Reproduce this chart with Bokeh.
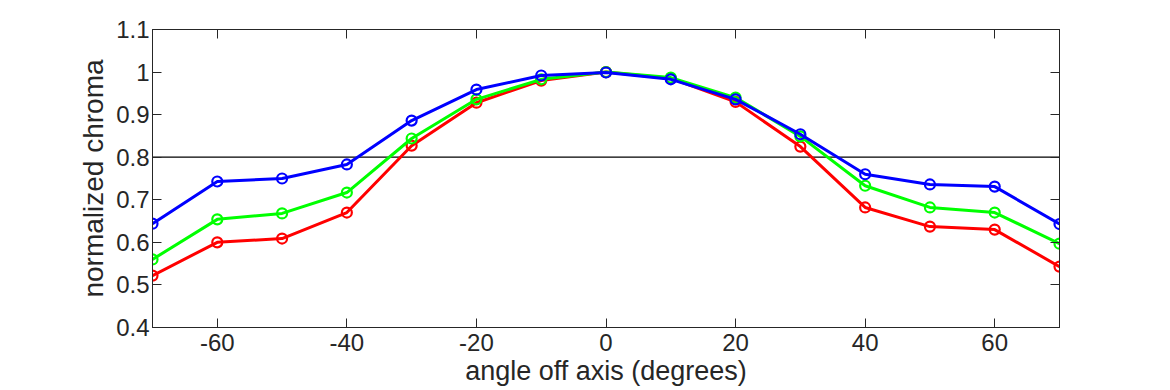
from bokeh.plotting import figure
from bokeh.models import FixedTicker, LinearAxis, Span, Range1d
from bokeh.embed import file_html
from bokeh.resources import INLINE

angles = [-70, -60, -50, -40, -30, -20, -10, 0, 10, 20, 30, 40, 50, 60, 70]
red = [0.522, 0.600, 0.609, 0.670, 0.827, 0.928, 0.980, 1.000, 0.985, 0.930, 0.825, 0.682, 0.637, 0.630, 0.543]
green = [0.560, 0.654, 0.668, 0.717, 0.844, 0.936, 0.983, 1.000, 0.987, 0.940, 0.849, 0.733, 0.682, 0.670, 0.597]
blue = [0.644, 0.743, 0.750, 0.783, 0.886, 0.959, 0.992, 0.999, 0.983, 0.936, 0.854, 0.760, 0.736, 0.731, 0.643]

x_ticks = [-60, -40, -20, 0, 20, 40, 60]
x_tick_labels = ["-60", "-40", "-20", "0", "20", "40", "60"]
y_ticks = [0.4, 0.5, 0.6, 0.7, 0.8, 0.9, 1.0, 1.1]
y_tick_labels = ["0.4", "0.5", "0.6", "0.7", "0.8", "0.9", "1", "1.1"]
threshold = 0.8

FONT = "Liberation Sans"
TXT = "#262626"

p = figure(frame_width=907, frame_height=298, output_backend="svg", toolbar_location=None,
           x_range=Range1d(-70, 70), y_range=Range1d(0.4, 1.1),
           min_border_left=152, min_border_top=29, min_border_right=103, min_border_bottom=0,
           x_axis_label="angle off axis (degrees)", y_axis_label="normalized chroma")
p.grid.visible = False
p.outline_line_color = TXT
p.background_fill_color = "white"
p.border_fill_color = "white"

p.add_layout(Span(location=threshold, dimension="width", line_color="black", line_width=1.2, level="underlay"))

for ys, c in [(red, "#ff0000"), (green, "#00ff00"), (blue, "#0000ff")]:
    p.line(angles, ys, line_color=c, line_width=3)
    p.scatter(angles, ys, marker="circle", size=10, fill_color=None, line_color=c, line_width=2.2)

xa = p.xaxis[0]
ya = p.yaxis[0]
xa.ticker = FixedTicker(ticks=x_ticks)
xa.major_label_overrides = dict(zip(x_ticks, x_tick_labels))
ya.ticker = FixedTicker(ticks=y_ticks)
ya.major_label_overrides = dict(zip(y_ticks, y_tick_labels))

for ax in (xa, ya):
    ax.major_tick_in = 9
    ax.major_tick_out = 0
    ax.minor_tick_in = 0
    ax.minor_tick_out = 0
    ax.axis_line_color = TXT
    ax.major_tick_line_color = TXT
    ax.major_label_text_font = FONT
    ax.major_label_text_font_size = "24px"
    ax.major_label_text_color = TXT
    ax.axis_label_text_font = FONT
    ax.axis_label_text_font_size = "27px"
    ax.axis_label_text_font_style = "normal"
    ax.axis_label_text_color = TXT

ya.axis_label_text_font_size = "28px"
xa.major_label_standoff = 6
xa.axis_label_standoff = 2
ya.major_label_standoff = 3
ya.axis_label_standoff = 4

for loc, tk in (("above", x_ticks), ("right", y_ticks)):
    a = LinearAxis(ticker=FixedTicker(ticks=tk))
    a.major_tick_in = 9
    a.major_tick_out = 0
    a.minor_tick_in = 0
    a.minor_tick_out = 0
    a.axis_line_color = TXT
    a.major_tick_line_color = TXT
    a.major_label_text_font_size = "1px"
    a.major_label_text_color = None
    a.major_label_standoff = 0
    p.add_layout(a, loc)

open("out.html", "w").write(file_html(p, INLINE))
